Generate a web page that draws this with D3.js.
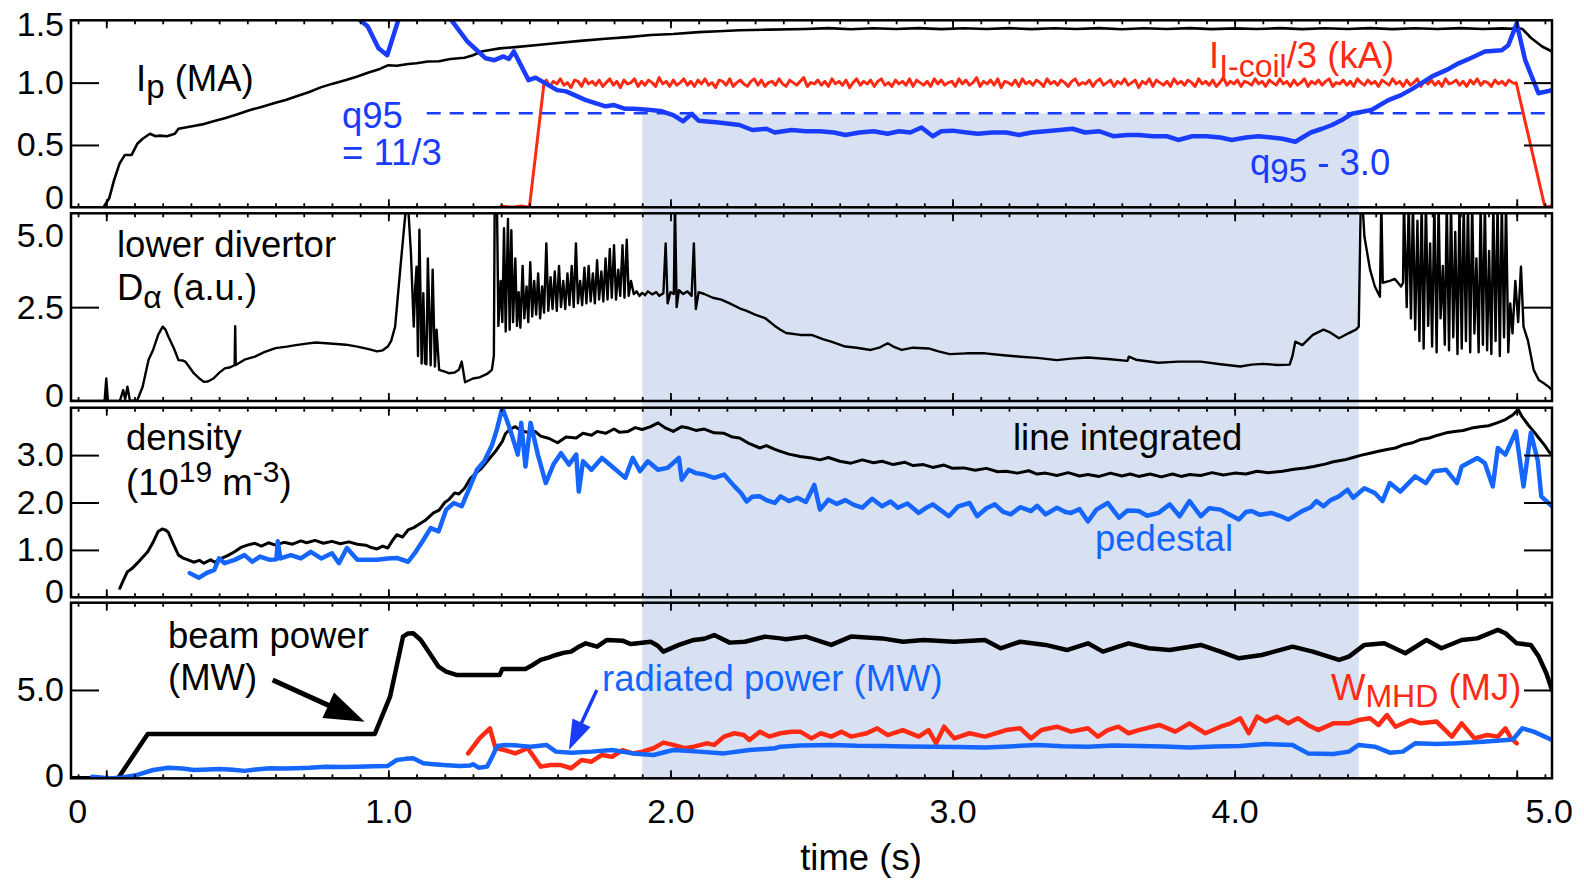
<!DOCTYPE html>
<html><head><meta charset="utf-8">
<script src="https://cdn.jsdelivr.net/npm/d3@7"></script>
<style>
html,body{margin:0;padding:0;background:#fff;}
svg{display:block;font-family:"Liberation Sans",Arial,Helvetica,sans-serif;}
</style></head><body>
<svg id="chart" width="1584" height="880"></svg>
<script>
// ---------------- DATA (time in s) ----------------
const xTickValues = [0, 1, 2, 3, 4, 5];
const xTickLabels = ["0", "1.0", "2.0", "3.0", "4.0", "5.0"];
const p1TickValues = [0, 0.5, 1.0, 1.5];
const p1TickLabels = ["0", "0.5", "1.0", "1.5"];
const p2TickValues = [0, 2.5, 5.0];
const p2TickLabels = ["0", "2.5", "5.0"];
const p3TickValues = [0, 1, 2, 3];
const p3TickLabels = ["0", "1.0", "2.0", "3.0"];
const p4TickValues = [0, 5];
const p4TickLabels = ["0", "5.0"];

const shadeWindow = [1.9, 4.44];     // s
const q95RefLevel = 0.754;           // q95 - 3 at q95 = 11/3 line
const q95RefStart = 1.136;           // s

// Plasma current Ip (MA)
const ipData = [
[-0.125,0],[-0.01,0],[0.01,0.07],[0.028,0.22],[0.047,0.35],[0.066,0.42],[0.09,0.42],[0.11,0.51],[0.129,0.55],
[0.155,0.59],[0.175,0.57],[0.19,0.575],[0.215,0.57],[0.243,0.59],[0.256,0.63],[0.28,0.64],[0.31,0.652],[0.34,0.665],
[0.38,0.69],[0.42,0.715],[0.46,0.742],[0.51,0.78],[0.55,0.805],[0.6,0.838],[0.636,0.86],[0.68,0.895],[0.72,0.925],
[0.76,0.962],[0.8,0.99],[0.85,1.022],[0.89,1.05],[0.93,1.082],[0.97,1.11],[1.0,1.14],[1.03,1.135],[1.07,1.15],
[1.1,1.155],[1.14,1.17],[1.18,1.172],[1.22,1.19],[1.27,1.2],[1.3,1.22],[1.33,1.25],[1.36,1.262],[1.395,1.275],
[1.45,1.285],[1.52,1.3],[1.6,1.318],[1.68,1.335],[1.77,1.352],[1.85,1.365],[1.93,1.382],[2.01,1.39],[2.1,1.405],
[2.17,1.412],[2.245,1.42],[2.35,1.425],[2.48,1.43],[2.56,1.437],[2.64,1.428],[2.72,1.436],[2.8,1.43],[2.88,1.437],
[2.96,1.429],[3.04,1.436],[3.12,1.43],[3.2,1.437],[3.28,1.429],[3.36,1.436],[3.44,1.43],[3.52,1.437],[3.6,1.428],
[3.68,1.436],[3.76,1.43],[3.84,1.437],[3.92,1.429],[4.0,1.435],[4.08,1.43],[4.16,1.437],[4.24,1.429],[4.32,1.436],
[4.4,1.43],[4.48,1.437],[4.56,1.429],[4.64,1.436],[4.72,1.43],[4.8,1.437],[4.88,1.43],[4.95,1.435],[4.98,1.432],
[5.0,1.44],[5.02,1.43],[5.05,1.36],[5.09,1.29],[5.125,1.25]
];

// I-coil current / 3 (kA)
const icoilRise = [[1.40,0.01],[1.44,0.0],[1.47,0.01],[1.50,0.0],[1.552,1.0]];
const icoilPlateauStart = 1.56, icoilPlateauStep = 0.0125;
const icoilPlateau = [
1.02,0.97,1.01,0.99,1.03,0.98,1.00,0.96,1.02,1.01,0.97,1.03,0.99,1.01,0.98,1.02,0.97,1.00,1.03,0.98,
1.01,0.96,1.02,0.99,1.00,1.03,0.97,1.01,0.98,1.02,1.00,0.97,1.04,0.99,1.01,0.97,1.02,0.98,1.00,1.03,
0.98,1.01,0.97,1.02,0.99,1.03,0.98,1.00,0.96,1.02,1.01,0.98,1.03,0.97,1.00,1.02,0.99,0.97,1.01,1.03,
0.98,1.02,0.97,1.00,1.01,0.98,1.03,0.99,0.97,1.02,1.00,0.98,1.01,1.04,0.97,1.00,0.99,1.02,0.98,1.01,
0.97,1.03,0.99,1.01,0.98,1.02,0.96,1.00,1.03,0.98,1.01,0.99,1.02,0.97,1.01,1.03,0.98,1.00,0.97,1.02,
0.99,1.01,0.98,1.03,0.97,1.02,1.00,0.98,1.01,0.97,1.03,0.99,1.02,0.98,1.00,1.01,0.97,1.03,0.99,1.02,
0.98,1.00,1.04,0.97,1.01,0.99,1.02,0.98,1.03,0.96,1.01,1.00,0.98,1.02,0.97,1.03,0.99,1.01,0.98,1.02,
1.00,0.97,1.03,0.99,1.01,0.98,1.02,1.00,0.97,1.01,1.03,0.98,1.00,0.99,1.02,0.97,1.01,1.03,0.98,1.00,
1.02,0.97,1.01,0.99,1.03,0.98,1.00,1.02,0.96,1.01,0.99,1.03,0.97,1.02,1.00,0.98,1.01,0.97,1.03,0.99,
1.01,0.98,1.02,1.00,0.97,1.03,0.99,1.01,0.98,1.02,0.97,1.00,1.04,0.98,1.01,0.99,1.02,0.97,1.01,1.00,
0.98,1.03,0.99,1.01,0.97,1.02,1.00,0.98,1.03,0.99,1.01,0.97,1.02,0.98,1.00,1.03,0.97,1.01,0.99,1.02,
0.98,1.01,1.03,0.97,1.00,0.99,1.02,0.98,1.01,0.97,1.03,1.00,0.98,1.02,0.99,1.01,0.97,1.02,1.00,0.98,
1.03,0.99,1.01,0.97,1.02,0.98,1.00,1.03,0.97,1.01,0.99,1.02,0.98,1.01,0.97,1.03,0.99,1.00,1.02,0.98,
1.01,0.97,1.02,0.99,1.03,0.98,1.01,1.00,0.97,1.02,0.99,1.01,0.98,1.02,1.00,0.99
];
const icoilFall = [[4.998,1.0],[5.10,0.0],[5.125,0.01]];

// q95 - 3.0
const q95Data = [
[0.87,1.6],[0.89,1.52],[0.927,1.45],[0.965,1.275],[0.996,1.22],[1.035,1.5],[1.06,1.65],[1.15,1.75],[1.2,1.6],
[1.224,1.5],[1.28,1.33],[1.345,1.195],[1.376,1.18],[1.408,1.21],[1.427,1.19],[1.445,1.25],[1.497,1.02],[1.522,1.04],
[1.56,0.99],[1.598,0.94],[1.63,0.93],[1.7,0.86],[1.77,0.81],[1.8,0.82],[1.84,0.79],[1.87,0.79],[1.93,0.78],
[1.97,0.77],[2.01,0.74],[2.045,0.69],[2.075,0.75],[2.1,0.695],[2.17,0.68],[2.245,0.66],[2.29,0.62],[2.34,0.63],
[2.37,0.6],[2.43,0.62],[2.48,0.61],[2.53,0.61],[2.58,0.6],[2.62,0.58],[2.67,0.6],[2.72,0.61],[2.77,0.59],
[2.81,0.61],[2.85,0.6],[2.89,0.64],[2.93,0.57],[2.96,0.61],[3.0,0.615],[3.05,0.6],[3.09,0.59],[3.14,0.6],
[3.19,0.6],[3.235,0.58],[3.28,0.6],[3.33,0.61],[3.38,0.62],[3.425,0.63],[3.47,0.6],[3.52,0.61],[3.57,0.57],
[3.62,0.58],[3.66,0.58],[3.71,0.57],[3.76,0.57],[3.8,0.54],[3.85,0.57],[3.9,0.57],[3.95,0.56],[3.99,0.54],
[4.04,0.56],[4.085,0.57],[4.13,0.56],[4.17,0.55],[4.215,0.526],[4.27,0.6],[4.31,0.63],[4.345,0.66],[4.38,0.7],
[4.415,0.75],[4.485,0.78],[4.545,0.86],[4.59,0.9],[4.63,0.95],[4.7,1.05],[4.75,1.1],[4.794,1.155],[4.84,1.2],
[4.887,1.25],[4.947,1.26],[4.97,1.3],[5.0,1.475],[5.03,1.18],[5.077,0.915],[5.125,0.94]
];

// Lower divertor D-alpha (a.u.)
const daData = [
[-0.125,0],[-0.006,0],[0.0,0.6],[0.006,0],[0.048,0],[0.06,0.29],[0.067,0.05],[0.075,0.38],[0.084,0],[0.11,0.02],
[0.129,0.38],[0.15,1.1],[0.166,1.36],[0.184,1.76],[0.2,1.98],[0.21,1.9],[0.22,1.72],[0.24,1.4],[0.256,1.09],
[0.27,1.08],[0.28,1.05],[0.295,0.9],[0.31,0.74],[0.33,0.6],[0.346,0.51],[0.36,0.52],[0.38,0.6],[0.4,0.75],
[0.42,0.87],[0.44,0.9],[0.455,0.96],[0.457,1.99],[0.459,0.96],[0.49,1.1],[0.527,1.18],[0.56,1.3],[0.6,1.41],
[0.64,1.45],[0.672,1.49],[0.71,1.53],[0.743,1.56],[0.78,1.54],[0.816,1.52],[0.85,1.5],[0.89,1.45],[0.93,1.38],
[0.96,1.32],[0.98,1.35],[0.998,1.45],[1.01,1.6],[1.024,1.98],[1.043,3.58],[1.06,4.96],[1.07,5.2],[1.08,3.95],
[1.09,1.98],[1.095,3.0],[1.1,3.58],[1.105,1.2],[1.11,4.56],[1.118,1.0],[1.124,2.87],[1.13,1.0],[1.135,0.98],
[1.14,3.8],[1.15,0.95],[1.157,3.5],[1.165,0.92],[1.171,1.9],[1.18,0.83],[1.2,0.78],[1.214,0.74],[1.235,0.76],
[1.25,0.83],[1.26,1.05],[1.272,0.5],[1.3,0.6],[1.323,0.63],[1.35,0.72],[1.367,0.83],[1.374,1.2],[1.377,5.3],
[1.385,5.3],[1.39,2.0],[1.398,3.2],[1.404,2.1],[1.41,4.6],[1.416,1.85],[1.424,4.85],[1.43,1.9],[1.436,4.55],
[1.442,2.1],[1.45,3.8],[1.456,2.0],[1.462,2.9],[1.468,1.95],[1.476,3.6],[1.482,2.2],[1.49,3.05],[1.496,2.1],
[1.503,3.7],[1.51,2.25],[1.517,3.2],[1.524,2.3],[1.531,3.4],[1.538,2.2],[1.545,3.05],[1.552,2.35],[1.56,4.2],
[1.567,2.4],[1.575,3.3],[1.582,2.45],[1.59,3.45],[1.597,2.4],[1.605,3.6],[1.612,2.5],[1.62,3.2],[1.627,2.45],
[1.635,3.4],[1.642,2.55],[1.65,3.6],[1.657,2.5],[1.665,4.2],[1.672,2.6],[1.68,3.2],[1.687,2.55],[1.695,3.55],
[1.702,2.6],[1.71,3.6],[1.717,2.65],[1.725,3.4],[1.732,2.6],[1.74,3.75],[1.747,2.7],[1.755,3.45],[1.762,2.65],
[1.77,3.8],[1.777,2.7],[1.785,4.05],[1.792,2.75],[1.8,4.15],[1.807,2.7],[1.815,3.5],[1.822,2.8],[1.83,4.15],
[1.837,2.75],[1.845,4.3],[1.852,2.8],[1.86,3.2],[1.87,2.85],[1.88,2.92],[1.89,2.8],[1.9,2.88],[1.91,2.82],
[1.92,2.92],[1.935,2.84],[1.95,2.9],[1.96,2.8],[1.975,2.87],[1.983,4.2],[1.99,2.6],[2.0,2.9],[2.012,2.85],
[2.016,5.3],[2.022,2.5],[2.03,2.95],[2.045,2.85],[2.06,2.92],[2.075,2.8],[2.083,4.2],[2.09,2.45],[2.1,2.9],
[2.12,2.85],[2.15,2.75],[2.18,2.7],[2.21,2.6],[2.245,2.47],[2.27,2.4],[2.3,2.3],[2.335,2.21],[2.37,2.0],
[2.39,1.9],[2.41,1.81],[2.46,1.76],[2.5,1.76],[2.54,1.65],[2.57,1.58],[2.62,1.45],[2.66,1.42],[2.71,1.36],
[2.74,1.42],[2.77,1.54],[2.79,1.45],[2.82,1.36],[2.86,1.42],[2.915,1.4],[2.95,1.32],[2.99,1.25],[3.05,1.27],
[3.115,1.27],[3.18,1.22],[3.24,1.18],[3.3,1.15],[3.37,1.09],[3.42,1.13],[3.48,1.16],[3.55,1.12],[3.62,1.07],
[3.625,1.18],[3.65,1.1],[3.73,1.02],[3.8,1.05],[3.88,1.05],[3.95,0.98],[4.02,0.92],[4.06,0.97],[4.1,0.99],
[4.15,0.96],[4.195,0.97],[4.205,1.2],[4.215,1.58],[4.24,1.49],[4.277,1.76],[4.315,1.9],[4.34,1.82],[4.37,1.67],
[4.405,1.81],[4.43,1.9],[4.44,1.98],[4.447,5.3],[4.453,5.3],[4.46,4.38],[4.48,3.5],[4.497,3.05],[4.515,2.78],
[4.52,5.3],[4.525,3.15],[4.55,3.2],[4.568,3.25],[4.59,3.05],[4.597,3.15],[4.6,5.3],[4.61,2.5],[4.617,5.3],
[4.625,2.2],[4.632,5.3],[4.64,1.9],[4.648,4.8],[4.655,1.6],[4.663,5.3],[4.67,1.4],[4.678,5.3],[4.686,2.0],
[4.693,4.2],[4.7,1.45],[4.708,5.3],[4.716,1.3],[4.723,5.3],[4.73,2.2],[4.738,3.6],[4.745,1.5],[4.752,5.3],
[4.76,1.35],[4.767,5.3],[4.775,1.7],[4.782,4.5],[4.79,1.25],[4.797,5.3],[4.805,1.4],[4.812,5.3],[4.82,1.6],
[4.827,5.3],[4.835,1.3],[4.842,5.3],[4.85,1.8],[4.857,3.8],[4.865,1.3],[4.872,5.3],[4.88,1.5],[4.887,5.3],
[4.895,1.35],[4.902,4.0],[4.91,1.25],[4.917,5.3],[4.925,1.6],[4.932,5.3],[4.94,1.2],[4.947,5.3],[4.955,1.7],
[4.962,5.3],[4.97,1.3],[4.977,2.6],[4.985,1.8],[4.995,3.2],[5.005,2.1],[5.015,3.58],[5.024,1.98],[5.04,1.6],
[5.06,0.83],[5.078,0.56],[5.1,0.45],[5.113,0.38],[5.125,0.3]
];

// Line-integrated density (1e19 m^-3)
const neLineData = [
[0.048,0.19],[0.06,0.35],[0.075,0.54],[0.09,0.6],[0.11,0.72],[0.13,0.85],[0.147,0.96],[0.165,1.15],[0.184,1.39],
[0.198,1.44],[0.21,1.42],[0.22,1.37],[0.238,1.12],[0.256,0.89],[0.275,0.82],[0.29,0.79],[0.31,0.74],[0.33,0.78],
[0.346,0.72],[0.37,0.79],[0.385,0.74],[0.4,0.8],[0.43,0.88],[0.455,0.96],[0.48,1.06],[0.5,1.1],[0.527,1.14],
[0.55,1.08],[0.575,1.15],[0.6,1.1],[0.63,1.16],[0.66,1.12],[0.69,1.19],[0.71,1.15],[0.74,1.2],[0.77,1.14],
[0.8,1.18],[0.83,1.13],[0.86,1.17],[0.89,1.12],[0.92,1.1],[0.94,1.05],[0.96,1.02],[0.98,1.08],[0.998,1.04],
[1.015,1.2],[1.03,1.32],[1.05,1.27],[1.07,1.42],[1.09,1.47],[1.106,1.53],[1.13,1.62],[1.16,1.78],[1.18,1.84],
[1.2,2.0],[1.214,2.06],[1.235,2.2],[1.25,2.18],[1.27,2.3],[1.29,2.5],[1.305,2.59],[1.33,2.72],[1.36,2.94],
[1.38,3.08],[1.404,3.29],[1.415,3.45],[1.43,3.54],[1.45,3.6],[1.47,3.52],[1.5,3.47],[1.52,3.5],[1.54,3.4],
[1.57,3.35],[1.6,3.26],[1.63,3.38],[1.666,3.36],[1.69,3.46],[1.72,3.42],[1.74,3.5],[1.77,3.46],[1.8,3.55],
[1.82,3.48],[1.85,3.5],[1.875,3.58],[1.9,3.54],[1.93,3.6],[1.956,3.68],[1.98,3.58],[2.01,3.5],[2.04,3.6],
[2.065,3.57],[2.09,3.52],[2.12,3.55],[2.155,3.47],[2.19,3.46],[2.22,3.38],[2.245,3.36],[2.28,3.24],[2.317,3.15],
[2.34,3.2],[2.37,3.12],[2.39,3.08],[2.42,3.02],[2.46,2.97],[2.5,2.94],[2.53,2.9],[2.56,2.95],[2.6,2.87],
[2.64,2.83],[2.68,2.9],[2.72,2.84],[2.75,2.87],[2.79,2.8],[2.83,2.85],[2.86,2.78],[2.897,2.8],[2.93,2.74],
[2.97,2.79],[3.0,2.72],[3.04,2.73],[3.08,2.68],[3.12,2.72],[3.16,2.65],[3.19,2.66],[3.23,2.62],[3.27,2.67],
[3.3,2.6],[3.33,2.62],[3.37,2.57],[3.41,2.63],[3.45,2.56],[3.48,2.59],[3.52,2.55],[3.56,2.62],[3.6,2.56],
[3.63,2.6],[3.66,2.55],[3.7,2.6],[3.74,2.54],[3.78,2.6],[3.81,2.55],[3.84,2.59],[3.88,2.57],[3.92,2.63],
[3.96,2.58],[4.0,2.62],[4.04,2.6],[4.08,2.66],[4.12,2.63],[4.17,2.66],[4.21,2.7],[4.25,2.73],[4.28,2.76],
[4.32,2.81],[4.35,2.86],[4.39,2.9],[4.42,2.95],[4.45,3.0],[4.48,3.04],[4.51,3.08],[4.54,3.12],[4.57,3.15],
[4.6,3.22],[4.63,3.26],[4.66,3.33],[4.69,3.36],[4.72,3.42],[4.75,3.47],[4.78,3.5],[4.81,3.52],[4.84,3.57],
[4.87,3.6],[4.9,3.62],[4.93,3.68],[4.96,3.75],[4.987,3.85],[5.005,3.96],[5.02,3.8],[5.04,3.64],[5.06,3.5],
[5.078,3.36],[5.1,3.2],[5.113,3.08],[5.125,3.01]
];

// Pedestal density (1e19 m^-3)
const nePedData = [
[0.296,0.51],[0.328,0.41],[0.355,0.51],[0.383,0.58],[0.4,0.82],[0.42,0.72],[0.455,0.79],[0.49,0.89],[0.518,0.75],
[0.545,0.86],[0.58,0.79],[0.603,0.8],[0.608,1.18],[0.617,0.82],[0.654,0.89],[0.69,0.82],[0.725,0.96],[0.762,0.82],
[0.8,0.93],[0.825,0.72],[0.853,1.04],[0.89,0.79],[0.925,0.79],[0.96,0.79],[0.998,0.82],[1.03,0.83],[1.07,0.75],
[1.097,0.96],[1.124,1.21],[1.15,1.46],[1.178,1.39],[1.205,1.85],[1.232,1.99],[1.26,1.92],[1.287,2.3],[1.314,2.69],
[1.34,2.87],[1.368,3.22],[1.386,3.57],[1.404,4.0],[1.43,3.57],[1.459,3.01],[1.471,3.68],[1.486,2.76],[1.504,3.68],
[1.53,3.01],[1.558,2.41],[1.585,2.8],[1.612,3.04],[1.64,2.8],[1.666,3.01],[1.675,2.23],[1.69,2.87],[1.72,2.69],
[1.757,2.94],[1.793,2.76],[1.84,2.52],[1.866,2.94],[1.892,2.66],[1.92,2.87],[1.956,2.69],[1.99,2.73],[2.03,2.94],
[2.04,2.48],[2.065,2.69],[2.09,2.62],[2.12,2.59],[2.155,2.52],[2.19,2.59],[2.227,2.34],[2.25,2.2],[2.27,2.02],
[2.29,2.12],[2.317,2.13],[2.34,2.05],[2.37,1.99],[2.39,2.13],[2.42,2.03],[2.45,2.1],[2.48,2.01],[2.51,2.37],
[2.53,1.85],[2.56,2.06],[2.59,1.97],[2.62,2.05],[2.65,1.95],[2.68,1.89],[2.715,2.08],[2.75,1.92],[2.78,2.02],
[2.806,1.89],[2.84,1.98],[2.88,1.78],[2.91,1.9],[2.93,1.96],[2.96,1.83],[2.987,1.71],[3.02,1.92],[3.06,1.99],
[3.087,1.71],[3.12,1.88],[3.15,1.96],[3.18,1.8],[3.206,1.75],[3.24,1.9],[3.278,1.82],[3.3,1.93],[3.33,1.75],
[3.37,1.89],[3.4,1.8],[3.42,1.78],[3.45,1.86],[3.48,1.6],[3.51,1.85],[3.55,1.99],[3.59,1.68],[3.62,1.83],
[3.66,1.82],[3.69,1.72],[3.73,1.78],[3.77,1.96],[3.805,1.71],[3.84,2.03],[3.88,1.71],[3.91,1.88],[3.95,1.85],
[3.98,1.75],[4.015,1.64],[4.04,1.8],[4.06,1.82],[4.09,1.74],[4.13,1.78],[4.16,1.72],[4.19,1.64],[4.22,1.75],
[4.24,1.82],[4.27,1.9],[4.29,2.03],[4.315,1.92],[4.34,2.05],[4.37,2.13],[4.4,2.27],[4.42,2.1],[4.46,2.3],
[4.497,2.2],[4.524,2.03],[4.55,2.41],[4.587,2.23],[4.64,2.55],[4.678,2.41],[4.706,2.66],[4.75,2.69],[4.788,2.41],
[4.805,2.76],[4.86,2.94],[4.887,2.83],[4.915,2.34],[4.933,3.15],[4.96,3.01],[4.997,3.5],[5.024,2.34],[5.05,3.47],
[5.075,2.87],[5.087,2.13],[5.125,1.92]
];

// Beam power (MW)
const beamData = [
[-0.125,0],[0.042,0],[0.147,2.51],[0.952,2.51],[1.006,4.62],[1.052,8.02],[1.07,8.2],[1.088,8.21],[1.115,7.83],
[1.15,7.0],[1.178,6.32],[1.205,6.04],[1.241,5.85],[1.395,5.85],[1.404,6.19],[1.486,6.19],[1.51,6.4],[1.54,6.7],
[1.57,6.85],[1.594,6.98],[1.62,7.1],[1.648,7.17],[1.67,7.4],[1.7,7.64],[1.74,7.45],[1.775,7.83],[1.83,7.79],
[1.86,7.6],[1.884,7.64],[1.93,7.73],[1.955,7.5],[1.975,7.17],[2.03,7.55],[2.083,7.83],[2.12,7.9],[2.155,8.11],
[2.21,7.68],[2.264,7.73],[2.335,8.02],[2.39,7.92],[2.41,7.87],[2.48,8.02],[2.57,7.55],[2.64,8.02],[2.75,7.92],
[2.825,7.73],[2.897,7.83],[3.005,7.73],[3.115,7.83],[3.17,7.36],[3.24,7.73],[3.33,7.55],[3.405,7.26],[3.48,7.64],
[3.533,7.17],[3.624,7.64],[3.696,7.36],[3.77,7.26],[3.88,7.55],[3.95,7.17],[4.015,6.79],[4.096,6.98],[4.205,7.45],
[4.277,7.17],[4.37,6.7],[4.405,6.89],[4.46,7.55],[4.53,7.64],[4.605,7.08],[4.68,7.83],[4.733,7.36],[4.805,7.83],
[4.86,7.92],[4.933,8.4],[4.96,8.21],[5.0,7.64],[5.05,7.55],[5.078,6.89],[5.105,5.95],[5.125,5.0]
];

// Radiated power (MW)
const pradData = [
[-0.05,0.09],[-0.02,0.05],[0.0,0.0],[0.03,0.02],[0.057,0.05],[0.11,0.19],[0.166,0.47],[0.22,0.6],[0.27,0.55],
[0.31,0.47],[0.36,0.5],[0.4,0.53],[0.45,0.48],[0.49,0.42],[0.53,0.5],[0.58,0.57],[0.63,0.55],[0.672,0.57],
[0.72,0.6],[0.78,0.66],[0.84,0.64],[0.89,0.66],[0.95,0.68],[0.998,0.7],[1.03,1.04],[1.06,1.1],[1.088,1.13],
[1.124,0.85],[1.16,0.8],[1.196,0.75],[1.25,0.7],[1.29,0.72],[1.3,0.8],[1.32,0.6],[1.35,0.66],[1.368,1.22],
[1.386,1.83],[1.413,1.89],[1.46,1.85],[1.504,1.79],[1.56,1.89],[1.594,1.51],[1.648,1.45],[1.72,1.51],[1.793,1.6],
[1.866,1.41],[1.94,1.32],[2.01,1.6],[2.1,1.51],[2.19,1.41],[2.28,1.6],[2.37,1.7],[2.39,1.79],[2.46,1.85],
[2.57,1.89],[2.66,1.84],[2.75,1.83],[2.84,1.8],[2.93,1.79],[3.02,1.77],[3.115,1.75],[3.2,1.8],[3.3,1.89],
[3.39,1.82],[3.48,1.79],[3.57,1.85],[3.66,1.83],[3.75,1.8],[3.84,1.75],[3.93,1.8],[4.02,1.83],[4.11,1.94],
[4.205,1.89],[4.26,1.41],[4.35,1.38],[4.405,1.51],[4.44,1.89],[4.497,1.79],[4.55,1.45],[4.596,1.51],[4.64,1.98],
[4.716,1.94],[4.788,1.98],[4.88,2.07],[4.987,2.2],[5.02,2.83],[5.06,2.64],[5.125,2.17]
];

// Stored energy W_MHD (MJ)
const wmhdData = [
[1.283,1.41],[1.323,2.26],[1.36,2.83],[1.38,1.7],[1.413,1.6],[1.45,1.41],[1.494,1.7],[1.54,0.66],[1.576,0.75],
[1.612,0.75],[1.648,0.57],[1.685,1.04],[1.72,0.94],[1.757,1.32],[1.793,1.22],[1.83,1.6],[1.866,1.41],[1.9,1.51],
[1.94,1.7],[1.975,2.02],[2.01,1.89],[2.05,1.7],[2.083,1.79],[2.128,1.98],[2.155,1.89],[2.19,2.36],[2.227,2.55],
[2.26,2.45],[2.28,2.17],[2.317,2.64],[2.35,2.36],[2.39,2.55],[2.43,2.64],[2.46,2.64],[2.5,2.26],[2.533,2.55],
[2.57,2.36],[2.606,2.64],[2.64,2.36],[2.696,2.55],[2.733,2.83],[2.77,2.45],[2.824,2.73],[2.88,2.36],[2.915,2.73],
[2.942,1.98],[2.97,2.92],[3.006,2.26],[3.06,2.55],[3.115,2.36],[3.19,2.73],[3.24,2.83],[3.278,2.26],[3.315,2.73],
[3.37,2.92],[3.42,2.64],[3.48,2.83],[3.515,2.36],[3.55,2.73],[3.588,2.92],[3.624,2.55],[3.66,2.73],[3.733,3.02],
[3.79,2.64],[3.84,3.11],[3.896,2.55],[3.95,2.92],[3.986,3.11],[4.02,3.4],[4.05,2.55],[4.08,3.49],[4.11,3.21],
[4.15,3.49],[4.19,3.11],[4.224,3.4],[4.26,3.02],[4.296,2.73],[4.35,3.11],[4.405,3.11],[4.44,3.3],[4.48,3.4],
[4.51,3.02],[4.54,3.58],[4.57,2.92],[4.624,3.3],[4.66,3.11],[4.716,3.21],[4.77,2.36],[4.805,3.11],[4.85,2.26],
[4.895,2.45],[4.933,2.36],[4.96,2.83],[4.98,2.26],[5.0,1.98]
];

// Annotation arrows (time, value in panel 4)
const beamArrow = [[0.59, 5.57], [0.916, 3.2]];
const pradArrow = [[1.739, 5.0], [1.64, 1.6]];

// ---------------- LAYOUT ----------------
const svg = d3.select("#chart");
const X0 = 71, X1 = 1552;
const x = d3.scaleLinear().domain([-0.125, 5.125]).range([X0, X1]);
const panels = [
  {top: 20.3, bottom: 207.3, max: 1.5, vals: p1TickValues, labs: p1TickLabels, inner: [0.5, 1.0], labShift: {"1.5": 4, "0": -10}},
  {top: 213.3, bottom: 401, max: 5.0, vals: p2TickValues, labs: p2TickLabels, inner: [2.5], labShift: {"5.0": 22, "0": -5}},
  {top: 407.7, bottom: 597.3, max: 4.0, vals: p3TickValues, labs: p3TickLabels, inner: [1, 2, 3], labShift: {"0": -6}},
  {top: 602.7, bottom: 778.3, max: 9.94, vals: p4TickValues, labs: p4TickLabels, inner: [5], labShift: {"0": -3}}
];
panels.forEach(p => p.y = d3.scaleLinear().domain([0, p.max]).range([p.bottom, p.top]));

const FONT = '"Liberation Sans", Arial, Helvetica, sans-serif';
const BLUE_Q = "#1a3cff", BLUE_P = "#1466ff", RED = "#ff2a14";

// Shading
svg.append("rect")
  .attr("x", x(shadeWindow[0])).attr("width", x(shadeWindow[1]) - x(shadeWindow[0]))
  .attr("y", panels[0].y(q95RefLevel)).attr("height", panels[3].bottom - panels[0].y(q95RefLevel))
  .attr("fill", "#d8e1f2");

// clip paths
const defs = svg.append("defs");
panels.forEach((p, i) => {
  defs.append("clipPath").attr("id", "clip" + i).append("rect")
    .attr("x", X0).attr("y", p.top).attr("width", X1 - X0).attr("height", p.bottom - p.top);
});

function drawLine(i, data, color, width) {
  const p = panels[i];
  const line = d3.line().x(d => x(d[0])).y(d => p.y(d[1]));
  svg.append("path").datum(data).attr("clip-path", `url(#clip${i})`)
    .attr("d", line).attr("fill", "none").attr("stroke", color)
    .attr("stroke-width", width).attr("stroke-linejoin", "round").attr("stroke-linecap", "round");
}

// Panel 1
const icoilData = icoilRise
  .concat(icoilPlateau.map((v, k) => [icoilPlateauStart + k * icoilPlateauStep, v]))
  .concat(icoilFall);
drawLine(0, icoilData, RED, 3);
drawLine(0, ipData, "#000", 2.6);
svg.append("line").attr("clip-path", "url(#clip0)")
  .attr("x1", x(q95RefStart)).attr("x2", X1)
  .attr("y1", panels[0].y(q95RefLevel)).attr("y2", panels[0].y(q95RefLevel))
  .attr("stroke", BLUE_Q).attr("stroke-width", 2.6).attr("stroke-dasharray", "14,9");
drawLine(0, q95Data, BLUE_Q, 4.5);

// Panel 2
drawLine(1, daData, "#000", 2.4);

// Panel 3
drawLine(2, neLineData, "#000", 3.0);
drawLine(2, nePedData, BLUE_P, 4.5);

// Panel 4
drawLine(3, beamData, "#000", 4.5);
drawLine(3, wmhdData, RED, 4.5);
drawLine(3, pradData, BLUE_P, 4.5);

// Axes / frames
const minorTicks = d3.range(-1, 52).map(k => k / 10);
panels.forEach((p, i) => {
  const g = svg.append("g");
  const addX = (gen, yPos, vals, size) => {
    const a = g.append("g").attr("transform", `translate(0,${yPos})`)
      .call(gen(x).tickValues(vals).tickSize(-size).tickFormat(""));
    a.select(".domain").remove();
    a.selectAll("line").attr("stroke", "#000").attr("stroke-width", 1.8);
  };
  addX(d3.axisBottom, p.bottom, minorTicks, 4);
  addX(d3.axisBottom, p.bottom, xTickValues, 8);
  addX(d3.axisTop, p.top, minorTicks, 4);
  addX(d3.axisTop, p.top, xTickValues, 8);
  const l = g.append("g").attr("transform", `translate(${X0},0)`)
    .call(d3.axisLeft(p.y).tickValues(p.inner).tickSize(-28).tickFormat(""));
  const r = g.append("g").attr("transform", `translate(${X1},0)`)
    .call(d3.axisRight(p.y).tickValues(p.inner).tickSize(-28).tickFormat(""));
  [l, r].forEach(a => { a.select(".domain").remove(); a.selectAll("line").attr("stroke", "#000").attr("stroke-width", 2); });
  const lab = g.append("g").attr("transform", `translate(${X0},0)`)
    .call(d3.axisLeft(p.y).tickValues(p.vals).tickSize(0).tickPadding(7).tickFormat((d, k) => p.labs[k]));
  lab.select(".domain").remove();
  lab.attr("font-family", FONT).attr("font-size", 34);
  lab.selectAll("text").attr("fill", "#000")
    .attr("transform", function() { const s = p.labShift[this.textContent] || 0; return `translate(0,${s})`; });
  g.append("rect").attr("x", X0).attr("y", p.top).attr("width", X1 - X0).attr("height", p.bottom - p.top)
    .attr("fill", "none").attr("stroke", "#000").attr("stroke-width", 2.5);
});

// x labels
const xLabShift = {"0": -29, "5.0": 32};
const xl = svg.append("g").attr("transform", `translate(0,${panels[3].bottom})`)
  .call(d3.axisBottom(x).tickValues(xTickValues).tickSize(0).tickFormat((d, k) => xTickLabels[k]));
xl.select(".domain").remove();
xl.attr("font-family", FONT).attr("font-size", 34);
xl.selectAll("text").attr("fill", "#000").attr("y", 823 - panels[3].bottom).attr("dy", 0)
  .attr("dx", function() { return xLabShift[this.textContent] || 0; });

// Rich text helper
function richText(xp, yp, parts, color, size, shiftSub = 8, shiftSup = 13, subSize = 32) {
  const t = svg.append("text").attr("x", xp).attr("y", yp).attr("fill", color)
    .attr("font-size", size).attr("font-family", FONT);
  let cur = 0;
  parts.forEach(pt => {
    const target = pt.sub ? shiftSub : (pt.sup ? -shiftSup : 0);
    const ts = t.append("tspan").text(pt.t).attr("dy", target - cur);
    if (pt.sub || pt.sup) ts.attr("font-size", subSize);
    cur = target;
  });
  return t;
}
const S = 36.5;
richText(136, 91, [{t: "I"}, {t: "p", sub: true}, {t: " (MA)"}], "#000", S, 7, 0, 33);
richText(342, 128, [{t: "q95"}], BLUE_Q, S);
richText(342, 165, [{t: "= 11/3"}], BLUE_Q, S);
richText(1209, 68, [{t: "I"}, {t: "I-coil", sub: true}, {t: "/3 (kA)"}], RED, S, 9, 0, 32);
richText(1250, 175, [{t: "q"}, {t: "95", sub: true}, {t: " - 3.0"}], BLUE_Q, S, 7, 0, 33);
richText(117, 257, [{t: "lower divertor"}], "#000", S);
richText(117, 300, [{t: "D"}, {t: "α", sub: true}, {t: " (a.u.)"}], "#000", S, 8, 0, 32);
richText(126, 450, [{t: "density"}], "#000", S);
richText(126, 495, [{t: "(10"}, {t: "19", sup: true}, {t: " m"}, {t: "-3", sup: true}, {t: ")"}], "#000", S, 0, 13, 30);
richText(1013, 450, [{t: "line integrated"}], "#000", S);
richText(1095, 551, [{t: "pedestal"}], BLUE_P, S);
richText(168, 648, [{t: "beam power"}], "#000", S);
richText(168, 690, [{t: "(MW)"}], "#000", S);
richText(602, 691, [{t: "radiated power (MW)"}], BLUE_P, S);
richText(1331, 700, [{t: "W"}, {t: "MHD", sub: true}, {t: " (MJ)"}], RED, S, 7, 0, 32);
svg.append("text").attr("x", 861).attr("y", 870).attr("text-anchor", "middle")
  .attr("font-size", S).attr("font-family", FONT).attr("fill", "#000").text("time (s)");

// Arrows
function arrow(pts, color, lw, L, hw) {
  const yS = panels[3].y;
  const a = [x(pts[0][0]), yS(pts[0][1])], b = [x(pts[1][0]), yS(pts[1][1])];
  const dx = b[0] - a[0], dy = b[1] - a[1], len = Math.hypot(dx, dy);
  const ux = dx / len, uy = dy / len;
  const base = [b[0] - ux * L, b[1] - uy * L];
  svg.append("line").attr("x1", a[0]).attr("y1", a[1]).attr("x2", base[0] + ux * 4).attr("y2", base[1] + uy * 4)
    .attr("stroke", color).attr("stroke-width", lw);
  svg.append("polygon").attr("fill", color)
    .attr("points", [b, [base[0] - uy * hw, base[1] + ux * hw], [base[0] + uy * hw, base[1] - ux * hw]].map(q => q.join(",")).join(" "));
}
arrow(beamArrow, "#000", 5, 40, 14);
arrow(pradArrow, "#1a3cf5", 3.5, 30, 10);
</script></body></html>
